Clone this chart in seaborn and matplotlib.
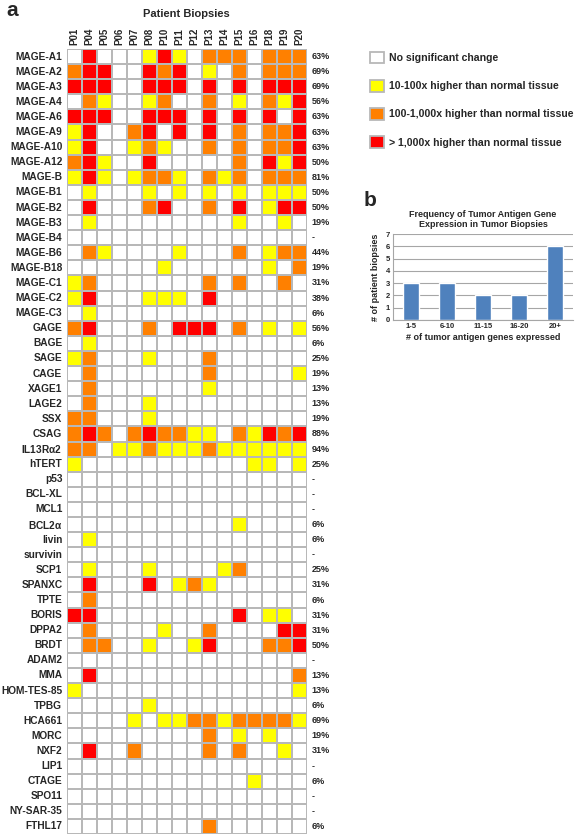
import numpy as np
import pandas as pd
import matplotlib.pyplot as plt
import seaborn as sns
from matplotlib.colors import ListedColormap
from matplotlib.patches import Patch

patients = ["P01", "P04", "P05", "P06", "P07", "P08", "P10", "P11",
            "P12", "P13", "P14", "P15", "P16", "P18", "P19", "P20"]

genes = ["MAGE-A1", "MAGE-A2", "MAGE-A3", "MAGE-A4", "MAGE-A6", "MAGE-A9",
         "MAGE-A10", "MAGE-A12", "MAGE-B", "MAGE-B1", "MAGE-B2", "MAGE-B3",
         "MAGE-B4", "MAGE-B6", "MAGE-B18", "MAGE-C1", "MAGE-C2", "MAGE-C3",
         "GAGE", "BAGE", "SAGE", "CAGE", "XAGE1", "LAGE2", "SSX", "CSAG",
         "IL13R$\\alpha$2", "hTERT", "p53", "BCL-XL", "MCL1", "BCL2$\\alpha$",
         "livin", "survivin", "SCP1", "SPANXC", "TPTE", "BORIS", "DPPA2",
         "BRDT", "ADAM2", "MMA", "HOM-TES-85", "TPBG", "HCA661", "MORC",
         "NXF2", "LIP1", "CTAGE", "SPO11", "NY-SAR-35", "FTHL17"]

# 0 = no change, 1 = 10-100x, 2 = 100-1,000x, 3 = >1,000x
levels = [
    [0, 3, 0, 0, 0, 1, 3, 1, 0, 2, 2, 2, 0, 2, 2, 2],
    [2, 3, 3, 0, 0, 3, 2, 3, 0, 1, 0, 2, 0, 2, 2, 2],
    [3, 3, 3, 0, 0, 3, 3, 3, 0, 3, 0, 3, 0, 3, 3, 3],
    [0, 2, 1, 0, 0, 1, 2, 0, 0, 2, 0, 1, 0, 2, 1, 3],
    [3, 3, 3, 0, 0, 3, 3, 3, 0, 3, 0, 3, 0, 3, 0, 3],
    [1, 3, 0, 0, 2, 3, 0, 3, 0, 3, 0, 2, 0, 2, 2, 3],
    [1, 3, 0, 0, 1, 2, 1, 0, 0, 2, 0, 2, 0, 2, 2, 3],
    [2, 3, 1, 0, 0, 3, 0, 0, 0, 0, 0, 2, 0, 3, 1, 3],
    [1, 3, 1, 0, 1, 2, 2, 1, 0, 2, 1, 2, 0, 2, 2, 2],
    [0, 1, 0, 0, 0, 1, 0, 1, 0, 1, 0, 1, 0, 1, 1, 1],
    [0, 3, 0, 0, 0, 2, 3, 0, 0, 2, 0, 3, 0, 1, 3, 3],
    [0, 1, 0, 0, 0, 0, 0, 0, 0, 0, 0, 1, 0, 0, 1, 0],
    [0, 0, 0, 0, 0, 0, 0, 0, 0, 0, 0, 0, 0, 0, 0, 0],
    [0, 2, 1, 0, 0, 0, 0, 1, 0, 0, 0, 2, 0, 1, 2, 2],
    [0, 0, 0, 0, 0, 0, 1, 0, 0, 0, 0, 0, 0, 1, 0, 2],
    [1, 2, 0, 0, 0, 0, 0, 0, 0, 2, 0, 2, 0, 0, 2, 0],
    [1, 3, 0, 0, 0, 1, 1, 1, 0, 3, 0, 0, 0, 0, 0, 0],
    [0, 1, 0, 0, 0, 0, 0, 0, 0, 0, 0, 0, 0, 0, 0, 0],
    [2, 3, 0, 0, 0, 2, 0, 3, 3, 3, 0, 2, 0, 1, 0, 1],
    [0, 1, 0, 0, 0, 0, 0, 0, 0, 0, 0, 0, 0, 0, 0, 0],
    [1, 2, 0, 0, 0, 1, 0, 0, 0, 2, 0, 0, 0, 0, 0, 0],
    [0, 2, 0, 0, 0, 0, 0, 0, 0, 2, 0, 0, 0, 0, 0, 1],
    [0, 2, 0, 0, 0, 0, 0, 0, 0, 1, 0, 0, 0, 0, 0, 0],
    [0, 2, 0, 0, 0, 1, 0, 0, 0, 0, 0, 0, 0, 0, 0, 0],
    [2, 2, 0, 0, 0, 1, 0, 0, 0, 0, 0, 0, 0, 0, 0, 0],
    [2, 3, 2, 0, 2, 3, 2, 2, 1, 1, 0, 2, 1, 3, 2, 3],
    [2, 2, 0, 1, 1, 2, 1, 1, 1, 2, 1, 1, 1, 1, 1, 1],
    [1, 0, 0, 0, 0, 0, 0, 0, 0, 0, 0, 0, 1, 1, 0, 1],
    [0, 0, 0, 0, 0, 0, 0, 0, 0, 0, 0, 0, 0, 0, 0, 0],
    [0, 0, 0, 0, 0, 0, 0, 0, 0, 0, 0, 0, 0, 0, 0, 0],
    [0, 0, 0, 0, 0, 0, 0, 0, 0, 0, 0, 0, 0, 0, 0, 0],
    [0, 0, 0, 0, 0, 0, 0, 0, 0, 0, 0, 1, 0, 0, 0, 0],
    [0, 1, 0, 0, 0, 0, 0, 0, 0, 0, 0, 0, 0, 0, 0, 0],
    [0, 0, 0, 0, 0, 0, 0, 0, 0, 0, 0, 0, 0, 0, 0, 0],
    [0, 1, 0, 0, 0, 1, 0, 0, 0, 0, 1, 2, 0, 0, 0, 0],
    [0, 3, 0, 0, 0, 3, 0, 1, 2, 1, 0, 0, 0, 0, 0, 0],
    [0, 2, 0, 0, 0, 0, 0, 0, 0, 0, 0, 0, 0, 0, 0, 0],
    [3, 3, 0, 0, 0, 0, 0, 0, 0, 0, 0, 3, 0, 1, 1, 0],
    [0, 2, 0, 0, 0, 0, 1, 0, 0, 2, 0, 0, 0, 0, 3, 3],
    [0, 2, 2, 0, 0, 1, 0, 0, 1, 3, 0, 0, 0, 2, 2, 3],
    [0, 0, 0, 0, 0, 0, 0, 0, 0, 0, 0, 0, 0, 0, 0, 0],
    [0, 3, 0, 0, 0, 0, 0, 0, 0, 0, 0, 0, 0, 0, 0, 2],
    [1, 0, 0, 0, 0, 0, 0, 0, 0, 0, 0, 0, 0, 0, 0, 1],
    [0, 0, 0, 0, 0, 1, 0, 0, 0, 0, 0, 0, 0, 0, 0, 0],
    [0, 0, 0, 0, 1, 0, 1, 1, 2, 2, 1, 2, 2, 2, 2, 1],
    [0, 0, 0, 0, 0, 0, 0, 0, 0, 2, 0, 1, 0, 1, 0, 0],
    [0, 3, 0, 0, 2, 0, 0, 0, 0, 2, 0, 2, 0, 0, 1, 0],
    [0, 0, 0, 0, 0, 0, 0, 0, 0, 0, 0, 0, 0, 0, 0, 0],
    [0, 0, 0, 0, 0, 0, 0, 0, 0, 0, 0, 0, 1, 0, 0, 0],
    [0, 0, 0, 0, 0, 0, 0, 0, 0, 0, 0, 0, 0, 0, 0, 0],
    [0, 0, 0, 0, 0, 0, 0, 0, 0, 0, 0, 0, 0, 0, 0, 0],
    [0, 0, 0, 0, 0, 0, 0, 0, 0, 2, 0, 0, 0, 0, 0, 0],
]

percent = ["63%", "69%", "69%", "56%", "63%", "63%", "63%", "50%", "81%",
           "50%", "50%", "19%", "-", "44%", "19%", "31%", "38%", "6%", "56%",
           "6%", "25%", "19%", "13%", "13%", "19%", "88%", "94%", "25%", "-",
           "-", "-", "6%", "6%", "-", "25%", "31%", "6%", "31%", "31%", "50%",
           "-", "13%", "13%", "6%", "69%", "19%", "31%", "-", "6%", "-", "-",
           "6%"]

legend_labels = ["No significant change", "10-100x higher than normal tissue",
                 "100-1,000x higher than normal tissue",
                 "> 1,000x higher than normal tissue"]
level_colors = ["#ffffff", "#ffff00", "#ff8000", "#ff0000"]

bins = ["1-5", "6-10", "11-15", "16-20", "20+"]
n_biopsies = [3, 3, 2, 2, 6]

sns.set_style("white")
plt.rcParams['font.family'] = ['Liberation Sans', 'DejaVu Sans']
plt.rcParams['font.weight'] = 'bold'
plt.rcParams['mathtext.default'] = 'regular'

fig = plt.figure(figsize=(5.81, 8.35), dpi=100)
W, H = 581, 835

# panel a: heatmap
ax = fig.add_axes([66.5 / W, 1 - 834 / H, 240 / W, 785 / H])
df = pd.DataFrame(levels, index=genes, columns=patients)
sns.heatmap(df, ax=ax, cmap=ListedColormap(level_colors), vmin=-0.5, vmax=3.5,
            cbar=False, linewidths=1.2, linecolor='#b8b8b8')
ax.xaxis.tick_top()
ax.set_xticklabels(patients, rotation=90, fontsize=7, fontweight='bold')
ax.set_yticklabels(genes, rotation=0, fontsize=7.3, fontweight='bold')
ax.tick_params(length=0, pad=3)
ax.set_xlabel("")
ax.set_ylabel("")
for i, p in enumerate(percent):
    ax.text(16.35, i + 0.5, p, ha='left', va='center', fontsize=6.5,
            fontweight='bold')

fig.text(186 / W, 1 - 14 / H, "Patient Biopsies", ha='center', va='center',
         fontsize=8, fontweight='bold')
fig.text(6 / W, 1 - 11 / H, "a", ha='left', va='center', fontsize=15,
         fontweight='bold')

# legend
handles = [Patch(facecolor=c, edgecolor='#b8b8b8', linewidth=1.3)
           for c in level_colors]
fig.legend(handles, legend_labels, loc='upper left',
           bbox_to_anchor=(360 / W, 1 - 42 / H), frameon=False,
           handlelength=1.35, handleheight=1.35, handletextpad=0.5,
           labelspacing=1.55, prop={'size': 7.6, 'weight': 'bold'})

# panel b: bar chart
fig.text(364 / W, 1 - 200 / H, "b", ha='left', va='center', fontsize=15,
         fontweight='bold')
ax2 = fig.add_axes([393 / W, 1 - 320 / H, 180 / W, 86 / H])
sns.barplot(x=bins, y=n_biopsies, ax=ax2, color='#4f81bd', width=0.45,
            saturation=1)
ax2.set_ylim(0, 7)
ax2.set_yticks(range(0, 8))
ax2.yaxis.grid(True, color='#a6a6a6', linewidth=0.8)
ax2.set_axisbelow(True)
for s in ['top', 'right']:
    ax2.spines[s].set_visible(False)
for s in ['left', 'bottom']:
    ax2.spines[s].set_color('#a6a6a6')
ax2.tick_params(axis='both', labelsize=5.5, length=0, pad=2)
for t in ax2.get_xticklabels() + ax2.get_yticklabels():
    t.set_fontweight('bold')
ax2.set_title("Frequency of Tumor Antigen Gene\nExpression in Tumor Biopsies",
              fontsize=6.5, fontweight='bold', pad=5)
ax2.set_xlabel("# of tumor antigen genes expressed", fontsize=6.5,
               fontweight='bold', labelpad=2)
ax2.set_ylabel("# of patient biopsies", fontsize=6.5, fontweight='bold',
               labelpad=4)

fig.savefig("out.png", dpi=100)
